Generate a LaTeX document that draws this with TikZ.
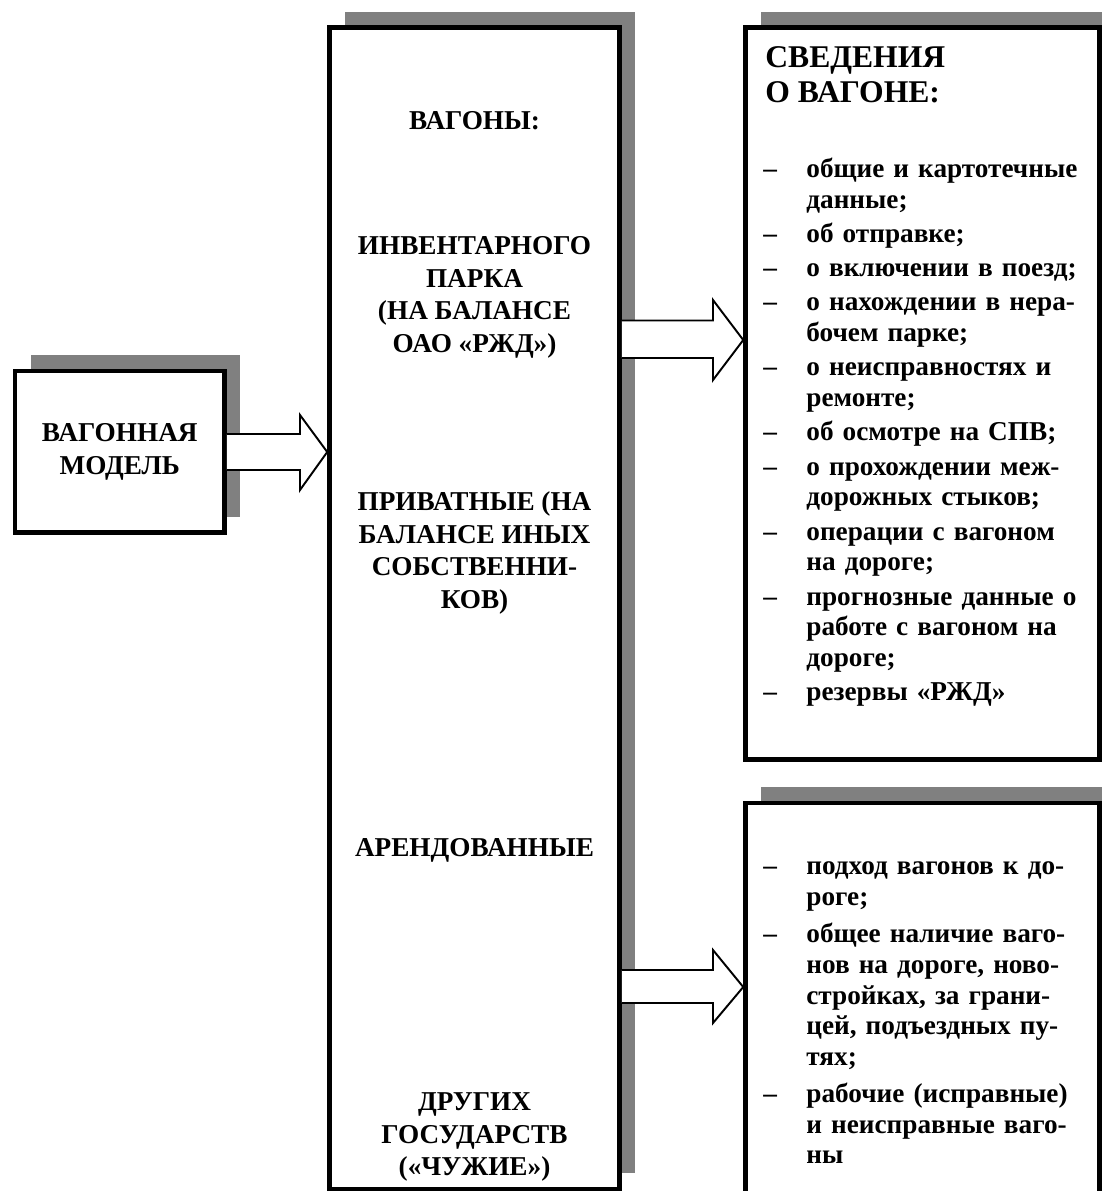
\documentclass[tikz,border=0pt]{standalone}
\usepackage{fontspec}
\setmainfont{Liberation Serif}
\usetikzlibrary{shadows}
\newcommand{\dline}{\par\hangindent=24.5pt\hangafter=1\noindent\makebox[24.5pt][l]{–}}

\begin{document}
\begin{tikzpicture}[x=0.02cm, y=-0.02cm,
            font=\bfseries\fontsize{15.5}{18.5}\selectfont,
            box/.style = {draw,line width=2.6pt,fill=white,inner sep=0pt,
                drop shadow={shadow xshift=9pt,shadow yshift=9pt,
                    fill=black!50,opacity=1}},
            unbox/.style = {inner sep=0pt,align=center,anchor=north},
            lst/.style = {inner sep=0pt,text width=230pt,anchor=base west,
                font=\bfseries\fontsize{15.5}{17.5}\selectfont},
            barrow/.style = {draw,line width=1.1pt,fill=white}]
            \useasboundingbox (0,0) rectangle (1102,1191);
            \clip (0,0) rectangle (1102,1191);
            \node[box,align=center,minimum width=4.19cm,minimum height=3.23cm]
                (b1) at (119.75,451.75) {ВАГОННАЯ\\МОДЕЛЬ};
            \node[box,minimum width=5.8cm,minimum height=23.23cm] (b2) at (474.5,608.25) {};
            \node[box,minimum width=7.08cm,minimum height=14.64cm] (b3) at (922.5,393.5) {};
            \node[box,minimum width=7.08cm,minimum height=8.94cm] (b4) at (922.5,1026.5) {};
            % middle column
            \node[unbox] (w1) at (474.5,111.5) {ВАГОНЫ:};
            \node[unbox] (w2) at (474.5,236.5) {ИНВЕНТАРНОГО\\ПАРКА\\(НА БАЛАНСЕ\\ОАО «РЖД»)};
            \node[unbox] (w3) at (474.5,491.5) {ПРИВАТНЫЕ (НА\\БАЛАНСЕ ИНЫХ\\СОБСТВЕННИ-\\КОВ)};
            \node[unbox] (w4) at (474.5,838.5) {АРЕНДОВАННЫЕ};
            \node[unbox] (w5) at (474.5,1092.5) {ДРУГИХ\\ГОСУДАРСТВ\\(«ЧУЖИЕ»)};
            % right column
            \node[inner sep=0pt,anchor=north west,align=left,
                font=\bfseries\fontsize{18}{20}\selectfont] (h1) at (765,46.5)
                {СВЕДЕНИЯ\\О ВАГОНЕ:};
            \node[lst] (s1) at (763,143) {\setlength{\parskip}{2pt}%
                \dline общие и картотечные\newline данные;
                \dline об отправке;
                \dline о включении в поезд;
                \dline о нахождении в нера-\newline бочем парке;
                \dline о неисправностях и\newline ремонте;
                \dline об осмотре на СПВ;
                \dline о прохождении меж-\newline дорожных стыков;
                \dline операции с вагоном\newline на дороге;
                \dline прогнозные данные о\newline работе с вагоном на\newline дороге;
                \dline резервы «РЖД»\par};
            \node[lst] (s2) at (763,838) {\setlength{\parskip}{3.5pt}%
                \dline подход вагонов к до-\newline роге;
                \dline общее наличие ваго-\newline нов на дороге, ново-\newline
                    стройках, за грани-\newline цей, подъездных пу-\newline тях;
                \dline рабочие (исправные)\newline и неисправные ваго-\newline ны\par};
            % block arrows
            \draw[barrow] (b1.east |- 0,434) -- (300,434) -- (300,415) -- (b2.west |- 0,452)
                -- (300,490) -- (300,470) -- (b1.east |- 0,470);
            \draw[barrow] (b2.east |- 0,320.5) -- (713,320.5) -- (713,300) -- (b3.west |- 0,340)
                -- (713,380) -- (713,358) -- (b2.east |- 0,358);
            \draw[barrow] (b2.east |- 0,970) -- (713,970) -- (713,950) -- (b4.west |- 0,987)
                -- (713,1023) -- (713,1003) -- (b2.east |- 0,1003);
        \end{tikzpicture}
\end{document}
